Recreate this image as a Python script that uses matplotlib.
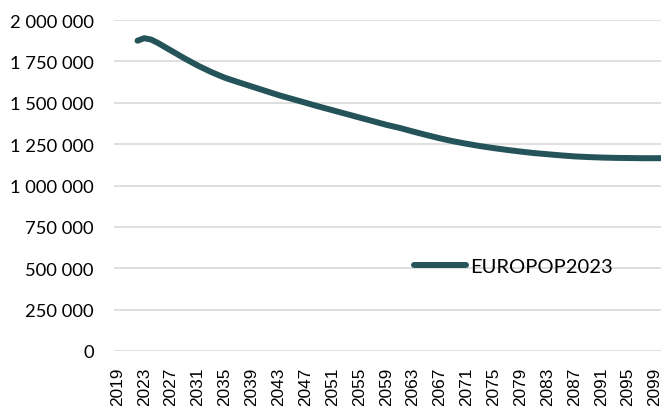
import matplotlib.pyplot as plt
from matplotlib.ticker import FuncFormatter, MultipleLocator

years = [2022, 2023, 2024, 2025, 2027, 2029, 2031, 2033, 2035, 2037, 2039,
         2041, 2043, 2045, 2047, 2049, 2051, 2053, 2055, 2057, 2059, 2061,
         2063, 2065, 2067, 2069, 2071, 2073, 2075, 2077, 2079, 2081, 2083,
         2085, 2087, 2089, 2091, 2093, 2095, 2097, 2099, 2100]
population = [1875000, 1890000, 1882000, 1862000, 1815000, 1768000, 1724000,
              1685000, 1651000, 1624000, 1598000, 1572000, 1546000, 1523000,
              1500000, 1477000, 1455000, 1433000, 1411000, 1389000, 1367000,
              1348000, 1326000, 1305000, 1285000, 1267000, 1252000, 1238000,
              1226000, 1215000, 1205000, 1196000, 1189000, 1182000, 1176000,
              1172000, 1169000, 1167000, 1166000, 1165000, 1165000, 1165000]
tick_years = list(range(2019, 2100, 4))
series_name = 'EUROPOP2023'

fig = plt.figure(figsize=(6.61, 4.10), dpi=100)
ax = fig.add_axes([114 / 661, 1 - 352 / 410, 547 / 661, 331 / 410])

ax.plot(years, population, color='#245459', linewidth=4.3,
        solid_capstyle='round', solid_joinstyle='round', label=series_name,
        zorder=3)

ax.set_xlim(2018.5, 2099.9)
ax.set_ylim(0, 2000000)
ax.yaxis.set_major_locator(MultipleLocator(250000))
ax.yaxis.set_major_formatter(FuncFormatter(lambda v, p: f"{v:,.0f}".replace(",", " ")))
ax.set_xticks(tick_years)
ax.set_xticklabels([str(y) for y in tick_years], rotation=90,
                   family='Liberation Sans', fontsize=12.4)
for lab in ax.get_yticklabels():
    lab.set_family('Lato')
    lab.set_fontsize(13.2)

ax.grid(axis='y', color='#D9D9D9', linewidth=1.2)
ax.set_axisbelow(True)
for s in ax.spines.values():
    s.set_visible(False)
ax.tick_params(axis='both', length=0)
ax.tick_params(axis='y', pad=14.5)
ax.tick_params(axis='x', pad=11.5)

leg = ax.legend(loc='center left', bbox_to_anchor=(292 / 547, (352 - 267) / 331),
                frameon=False, handlelength=2.6, handletextpad=0.2,
                prop={'family': 'Lato', 'size': 14.5}, borderaxespad=0)

fig.savefig('out.png', dpi=100)
